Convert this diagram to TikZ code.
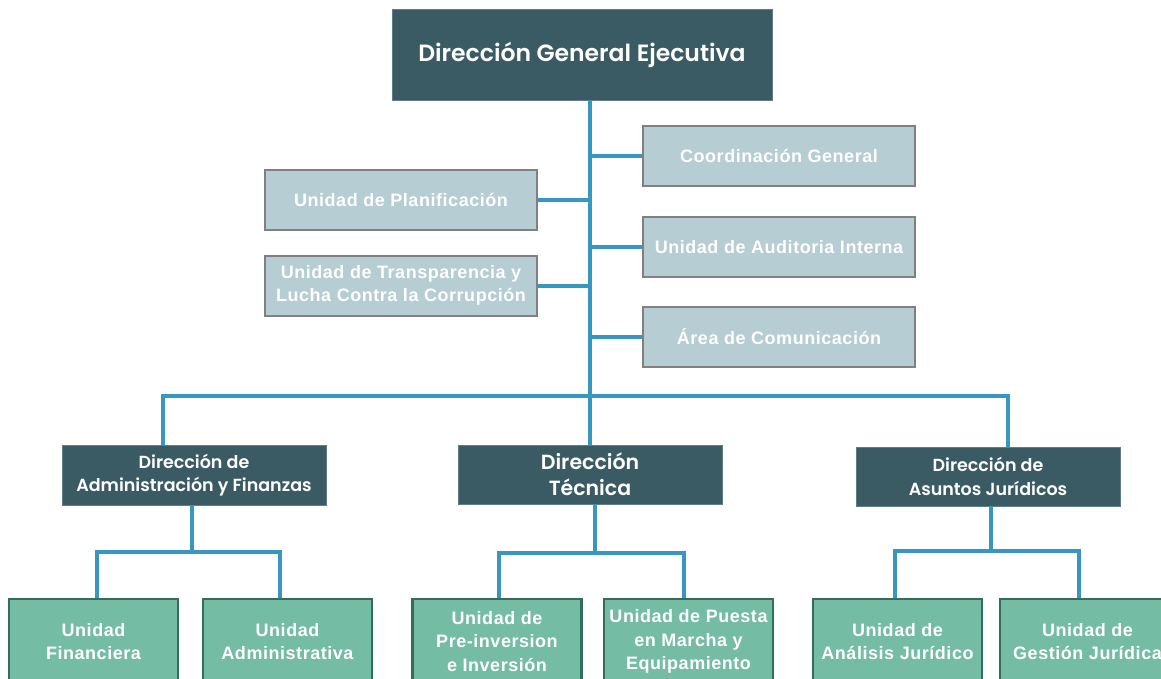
\documentclass[tikz,border=0pt]{standalone}
\usepackage{fontspec}
\setmainfont{Liberation Sans}
\newfontfamily\geo{Poppins}[UprightFont={* SemiBold}]
\newfontfamily\arb[LetterSpace=3]{Liberation Sans}
\definecolor{dark}{HTML}{3B5B64}
\definecolor{light}{HTML}{B5CDD3}
\definecolor{lightb}{HTML}{808080}
\definecolor{green}{HTML}{74BCA3}
\definecolor{greenb}{HTML}{336E5A}
\definecolor{conn}{HTML}{3797C0}
\tikzset{
  dirbox/.style={fill=dark, draw=dark!80!white, line width=0.8pt, text=white, align=center, inner sep=0pt},
  lbox/.style={fill=light, draw=lightb, line width=2pt, text=white, align=center, inner sep=0pt,
    minimum width=272pt, minimum height=60pt, font=\arb\bfseries\fontsize{18}{23}\selectfont},
  gbox/.style={fill=green, draw=greenb, line width=2.5pt, text=white, align=center, inner sep=0pt,
    minimum width=169pt, minimum height=85pt, font=\arb\bfseries\fontsize{18}{23.5}\selectfont},
  conn/.style={draw=conn, line width=4pt}
}
\begin{document}
\begin{tikzpicture}[x=1pt,y=-1pt]
\useasboundingbox (0,0) rectangle (1161,679);
\clip (0,0) rectangle (1161,679);
% top
\node[dirbox, minimum width=380pt, minimum height=91pt, font=\geo\fontsize{23.5}{27}\selectfont] (dge) at (582,54.5) {\raisebox{-3pt}{Dirección General Ejecutiva}};
% staff units
\node[lbox] (cg) at (779,156) {Coordinación General};
\node[lbox] (up) at (401,200) {Unidad de Planificación};
\node[lbox] (ua) at (779,247) {Unidad de Auditoria Interna};
\node[lbox] (ut) at (401,285.5) {Unidad de Transparencia y\\Lucha Contra la Corrupción};
\node[lbox] (ac) at (779,336.5) {Área de Comunicación};
% directions
\node[dirbox, minimum width=264pt, minimum height=60pt, font=\geo\fontsize{17.5}{23.5}\selectfont] (daf) at (194,475) {Dirección de\\Administración y Finanzas};
\node[dirbox, minimum width=264pt, minimum height=59pt, font=\geo\fontsize{20.5}{26}\selectfont] (dt) at (590,474.5) {Dirección\\Técnica};
\node[dirbox, minimum width=264pt, minimum height=59pt, font=\geo\fontsize{17.5}{23.5}\selectfont] (daj) at (988,476.5) {Dirección de\\Asuntos Jurídicos};
% units
\node[gbox] (uf) at (93.5,641.5) {Unidad\\Financiera};
\node[gbox] (uad) at (287.5,641.5) {Unidad\\Administrativa};
\node[gbox] (upi) at (497,641.5) {Unidad de\\Pre-inversion\\e Inversión};
\node[gbox] (upm) at (688.5,641.5) {Unidad de Puesta\\en Marcha y\\Equipamiento};
\node[gbox] (uaj) at (897.5,641.5) {Unidad de\\Análisis Jurídico};
\node[gbox, minimum width=175pt] (ugj) at (1087.5,641.5) {Unidad de\\Gestión Jurídica};
% trunk
\coordinate (t1) at (590,100);
\coordinate (t2) at (590,396);
\coordinate (bl) at (163,396);
\coordinate (br) at (1008,396);
\draw[conn] (t1) -- (t2);
\draw[conn] (cg.west) -- (cg.west -| t1);
\draw[conn] (ua.west) -- (ua.west -| t1);
\draw[conn] (ac.west) -- (ac.west -| t1);
\draw[conn] (up.east) -- (up.east -| t1);
\draw[conn] (ut.east) -- (ut.east -| t1);
\draw[conn, line cap=rect] (bl) -- (br);
\draw[conn] (bl) -- (bl |- daf.north);
\draw[conn] (t2) -- (t2 |- dt.north);
\draw[conn] (br) -- (br |- daj.north);
% branches
\draw[conn] ([xshift=-2pt]daf.south) -- ([xshift=-2pt,yshift=-47pt]daf.south);
\draw[conn, line join=miter] ([xshift=3.5pt]uf.north) |- ([yshift=-47pt]daf.south) -| ([xshift=-7.5pt]uad.north);
\draw[conn] ([xshift=5pt]dt.south) -- ([xshift=5pt,yshift=-49pt]dt.south);
\draw[conn, line join=miter] ([xshift=2pt]upi.north) |- ([yshift=-49pt]dt.south) -| ([xshift=-4.5pt]upm.north);
\draw[conn] ([xshift=3pt]daj.south) -- ([xshift=3pt,yshift=-45pt]daj.south);
\draw[conn, line join=miter] ([xshift=-2.5pt]uaj.north) |- ([yshift=-45pt]daj.south) -| ([xshift=-8.5pt]ugj.north);
\end{tikzpicture}
\end{document}
